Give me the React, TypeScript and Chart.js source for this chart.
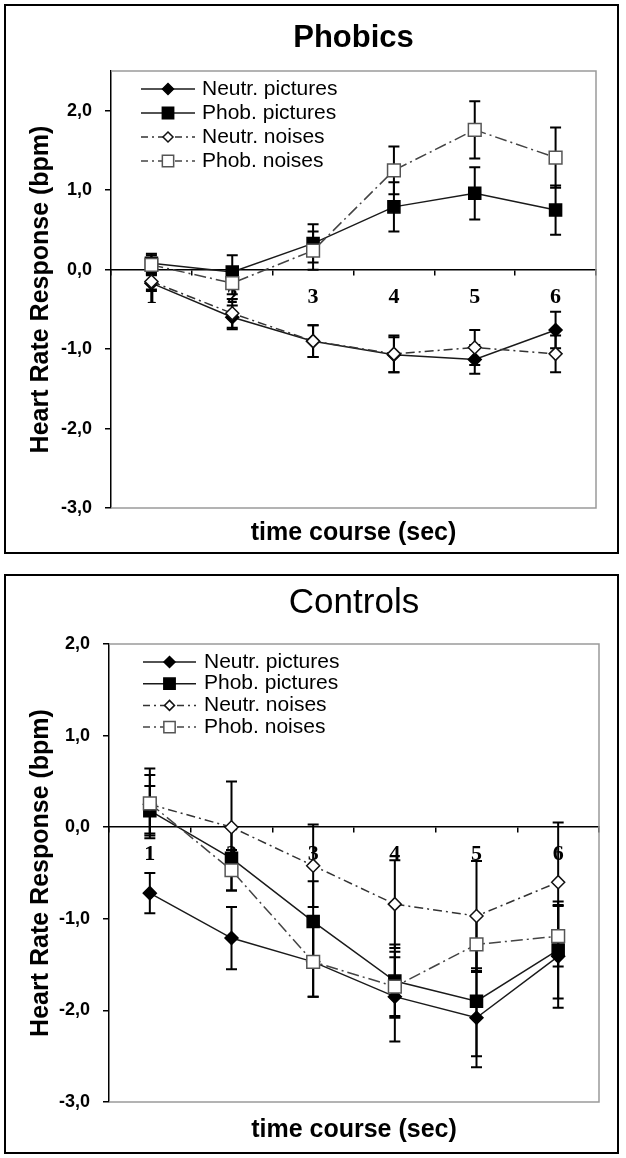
import React, { useEffect, useRef } from 'react';
import { Chart, registerables } from 'chart.js';

Chart.register(...registerables);

const timeLabels = ['1', '2', '3', '4', '5', '6'];
const seriesNames = ['Neutr. pictures', 'Phob. pictures', 'Neutr. noises', 'Phob. noises'];

// Phobics (mean heart rate change, bpm) and error bar half-lengths
const phobicsNeutrPictures = [-0.17, -0.6, -0.9, -1.07, -1.13, -0.76];
const phobicsNeutrPicturesErr = [0.1, 0.15, 0.2, 0.22, 0.18, 0.23];
const phobicsPhobPictures = [0.08, -0.03, 0.33, 0.79, 0.96, 0.75];
const phobicsPhobPicturesErr = [0.12, 0.21, 0.24, 0.31, 0.33, 0.31];
const phobicsNeutrNoises = [-0.15, -0.55, -0.9, -1.06, -0.98, -1.06];
const phobicsNeutrNoisesErr = [0.1, 0.18, 0.2, 0.23, 0.22, 0.23];
const phobicsPhobNoises = [0.06, -0.17, 0.24, 1.25, 1.76, 1.41];
const phobicsPhobNoisesErr = [0.12, 0.14, 0.24, 0.3, 0.36, 0.38];

// Controls
const controlsNeutrPictures = [-0.72, -1.21, -1.47, -1.85, -2.08, -1.41];
const controlsNeutrPicturesErr = [0.22, 0.34, 0.38, 0.49, 0.54, 0.56];
const controlsPhobPictures = [0.18, -0.34, -1.03, -1.68, -1.9, -1.34];
const controlsPhobPicturesErr = [0.27, 0.35, 0.44, 0.4, 0.6, 0.53];
const controlsNeutrNoises = [0.25, 0.0, -0.42, -0.84, -0.97, -0.6];
const controlsNeutrNoisesErr = [0.32, 0.5, 0.45, 0.48, 0.6, 0.65];
const controlsPhobNoises = [0.26, -0.47, -1.47, -1.74, -1.28, -1.19];
const controlsPhobNoisesErr = [0.38, 0.22, 0.38, 0.32, 0.3, 0.33];

const SANS = "'Liberation Sans', Arial, Helvetica, sans-serif";
const SERIF = "'Liberation Serif', 'Times New Roman', serif";

const seriesStyles = [
  { shape: 'rectRot', radius: 6.5, legendRadius: 5.5, fill: '#000', stroke: '#000', line: '#1a1a1a', dash: [] as number[], order: 4 },
  { shape: 'rect', radius: 8.5, legendRadius: 8, fill: '#000', stroke: '#000', line: '#1a1a1a', dash: [] as number[], order: 3 },
  { shape: 'rectRot', radius: 6.5, legendRadius: 5, fill: '#fff', stroke: '#111', line: '#333', dash: [9, 4, 2, 4], order: 2 },
  { shape: 'rect', radius: 9, legendRadius: 8, fill: '#fff', stroke: '#555', line: '#444', dash: [12, 4, 2, 4], order: 1 },
];

function drawMarker(ctx: CanvasRenderingContext2D, shape: string, x: number, y: number, r: number, fill: string, stroke: string) {
  ctx.beginPath();
  if (shape === 'rectRot') {
    ctx.moveTo(x, y - r);
    ctx.lineTo(x + r, y);
    ctx.lineTo(x, y + r);
    ctx.lineTo(x - r, y);
    ctx.closePath();
  } else {
    const s = r * Math.SQRT1_2;
    ctx.rect(x - s, y - s, 2 * s, 2 * s);
  }
  ctx.setLineDash([]);
  ctx.fillStyle = fill;
  ctx.strokeStyle = stroke;
  ctx.lineWidth = 1.5;
  ctx.fill();
  ctx.stroke();
}

// grey plot-area frame (top, right, bottom) and the error bars, under the lines
const underlayPlugin = {
  id: 'underlay',
  beforeDatasetsDraw(chart: any) {
    const { ctx, chartArea } = chart;
    const yScale = chart.scales.y;
    ctx.save();
    ctx.strokeStyle = '#9a9a9a';
    ctx.lineWidth = 1.5;
    ctx.beginPath();
    ctx.moveTo(chartArea.left, chartArea.top);
    ctx.lineTo(chartArea.right, chartArea.top);
    ctx.lineTo(chartArea.right, chartArea.bottom);
    ctx.lineTo(chartArea.left, chartArea.bottom);
    ctx.stroke();

    ctx.strokeStyle = '#000';
    ctx.lineWidth = 2;
    chart.data.datasets.forEach((ds: any, i: number) => {
      const meta = chart.getDatasetMeta(i);
      meta.data.forEach((pt: any, j: number) => {
        const v = ds.data[j];
        const e = ds.errorBars[j];
        const top = yScale.getPixelForValue(v + e);
        const bot = yScale.getPixelForValue(v - e);
        ctx.beginPath();
        ctx.moveTo(pt.x, top);
        ctx.lineTo(pt.x, bot);
        ctx.moveTo(pt.x - 5.5, top);
        ctx.lineTo(pt.x + 5.5, top);
        ctx.moveTo(pt.x - 5.5, bot);
        ctx.lineTo(pt.x + 5.5, bot);
        ctx.stroke();
      });
    });
    ctx.restore();
  },
};

// legend with a line sample and the marker in its middle
const lineLegendPlugin = {
  id: 'lineLegend',
  afterDraw(chart: any, _args: any, opts: any) {
    const { ctx } = chart;
    ctx.save();
    chart.data.datasets.forEach((ds: any, i: number) => {
      const st = seriesStyles[i];
      const y = opts.y0 + i * opts.pitch;
      ctx.strokeStyle = st.line;
      ctx.lineWidth = 1.5;
      ctx.setLineDash(st.dash.length ? [7, 4, 2, 4] : []);
      ctx.beginPath();
      ctx.moveTo(opts.x0, y);
      ctx.lineTo(opts.x1, y);
      ctx.stroke();
      drawMarker(ctx, st.shape, (opts.x0 + opts.x1) / 2, y, st.legendRadius, st.fill, st.stroke);
      ctx.fillStyle = '#000';
      ctx.font = `21px ${SANS}`;
      ctx.textBaseline = 'middle';
      ctx.textAlign = 'left';
      ctx.fillText(ds.label, opts.textX, y);
    });
    ctx.restore();
  },
};

type PanelProps = {
  title: string;
  titleFont: { size: number; weight: string };
  titlePad: { top: number; bottom: number };
  subtitlePad: { top: number; bottom: number };
  height: number;
  yMax: number;
  yAxisWidth: number;
  rightPad: number;
  values: number[][];
  errors: number[][];
  legend: { x0: number; x1: number; textX: number; y0: number; pitch: number };
};

function HeartRatePanel(props: PanelProps) {
  const canvasRef = useRef<HTMLCanvasElement>(null);

  useEffect(() => {
    if (!canvasRef.current) return;
    const chart = new Chart(canvasRef.current, {
      type: 'line',
      data: {
        labels: timeLabels,
        datasets: seriesNames.map((name, i) => {
          const st = seriesStyles[i];
          return {
            label: name,
            data: props.values[i],
            errorBars: props.errors[i],
            borderColor: st.line,
            borderWidth: 1.5,
            borderDash: st.dash,
            pointStyle: st.shape,
            pointRadius: st.radius,
            pointHoverRadius: st.radius,
            pointBackgroundColor: st.fill,
            pointBorderColor: st.stroke,
            pointBorderWidth: 1.5,
            tension: 0,
            fill: false,
            order: st.order,
          } as any;
        }),
      },
      options: {
        responsive: false,
        animation: false,
        events: [],
        layout: { padding: { left: 0, right: props.rightPad, top: 0, bottom: 0 } },
        scales: {
          x: {
            type: 'category',
            offset: true,
            position: { y: 0 } as any,
            grid: { drawOnChartArea: false, drawTicks: true, tickLength: 5, color: '#000', lineWidth: 1.5, offset: true },
            border: { display: true, color: '#000', width: 1.5 },
            ticks: {
              autoSkip: false,
              maxRotation: 0,
              padding: 9,
              color: '#000',
              font: { family: SERIF, size: 22, weight: 'bold' },
            },
            afterFit: (s: any) => {
              s.height = 0;
            },
          },
          y: {
            type: 'linear',
            min: -3,
            max: props.yMax,
            position: 'left',
            ticks: {
              stepSize: 1,
              padding: 13,
              color: '#000',
              font: { family: SANS, size: 18, weight: 'bold' },
              callback: (v: any) => Number(v).toFixed(1).replace('.', ','),
            },
            grid: { drawOnChartArea: false, tickLength: 6, color: '#000', lineWidth: 1.5 },
            border: { display: true, color: '#000', width: 1.5 },
            title: {
              display: true,
              text: 'Heart Rate Response (bpm)',
              color: '#000',
              font: { family: SANS, size: 25, weight: 'bold' },
              padding: { top: 26, bottom: 0 },
            },
            afterBuildTicks: (s: any) => {
              s.ticks = s.ticks.filter((t: any) => Number.isInteger(t.value));
            },
            afterFit: (s: any) => {
              s.width = props.yAxisWidth;
            },
          },
        },
        plugins: {
          legend: { display: false },
          tooltip: { enabled: false },
          title: {
            display: true,
            text: props.title,
            fullSize: false,
            color: '#000',
            font: { family: SANS, size: props.titleFont.size, weight: props.titleFont.weight as any },
            padding: props.titlePad,
          },
          subtitle: {
            display: true,
            position: 'bottom',
            text: 'time course (sec)',
            fullSize: false,
            color: '#000',
            font: { family: SANS, size: 25, weight: 'bold' },
            padding: props.subtitlePad,
          },
          lineLegend: props.legend,
        } as any,
      },
      plugins: [underlayPlugin, lineLegendPlugin],
    });
    return () => {
      chart.destroy();
    };
  }, []);

  return <canvas ref={canvasRef} width={626} height={props.height} style={{ display: 'block' }} />;
}

const frameStyle: React.CSSProperties = {
  position: 'absolute',
  border: '2px solid #000',
  boxSizing: 'border-box',
  pointerEvents: 'none',
};

export default function App() {
  return (
    <div style={{ position: 'absolute', left: 0, top: 0, width: 626, height: 1158, background: '#fff', overflow: 'hidden' }}>
      <div style={{ position: 'absolute', left: 0, top: 0 }}>
        <HeartRatePanel
          title="Phobics"
          titleFont={{ size: 31, weight: 'bold' }}
          titlePad={{ top: 19.4, bottom: 14.4 }}
          subtitlePad={{ top: 10, bottom: 8 }}
          height={556}
          yMax={2.5}
          yAxisWidth={111}
          rightPad={30}
          values={[phobicsNeutrPictures, phobicsPhobPictures, phobicsNeutrNoises, phobicsPhobNoises]}
          errors={[phobicsNeutrPicturesErr, phobicsPhobPicturesErr, phobicsNeutrNoisesErr, phobicsPhobNoisesErr]}
          legend={{ x0: 141, x1: 195, textX: 202, y0: 89, pitch: 24 }}
        />
      </div>
      <div style={{ position: 'absolute', left: 0, top: 556 }}>
        <HeartRatePanel
          title="Controls"
          titleFont={{ size: 35, weight: 'normal' }}
          titlePad={{ top: 26, bottom: 20 }}
          subtitlePad={{ top: 13, bottom: 13 }}
          height={602}
          yMax={2}
          yAxisWidth={109}
          rightPad={27}
          values={[controlsNeutrPictures, controlsPhobPictures, controlsNeutrNoises, controlsPhobNoises]}
          errors={[controlsNeutrPicturesErr, controlsPhobPicturesErr, controlsNeutrNoisesErr, controlsPhobNoisesErr]}
          legend={{ x0: 143, x1: 196, textX: 204, y0: 106, pitch: 21.7 }}
        />
      </div>
      <div style={{ ...frameStyle, left: 4, top: 4, width: 615, height: 550 }} />
      <div style={{ ...frameStyle, left: 4, top: 574, width: 615, height: 580 }} />
    </div>
  );
}
